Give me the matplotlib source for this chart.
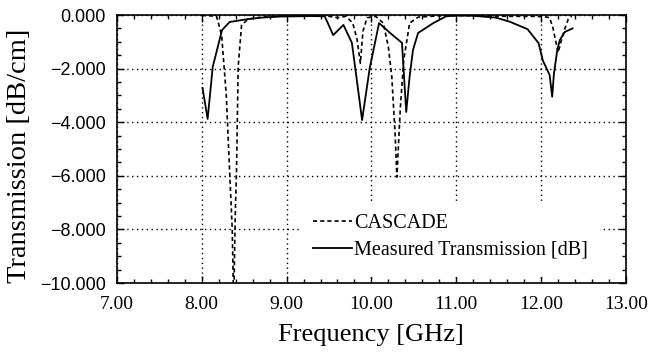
import matplotlib
matplotlib.use("Agg")
import matplotlib.pyplot as plt
from matplotlib.patches import Rectangle
from matplotlib.ticker import MultipleLocator, FixedLocator

# ---- data ----
meas_f = [8.01, 8.07, 8.13, 8.24, 8.33, 8.41, 8.55, 8.70, 8.90, 9.10, 9.30, 9.45,
          9.55, 9.67, 9.77, 9.89, 9.98, 10.09, 10.22, 10.36, 10.41, 10.45, 10.49,
          10.55, 10.73, 10.88, 11.00, 11.20, 11.47, 11.63, 11.84, 11.97, 12.02,
          12.10, 12.13, 12.15, 12.19, 12.22, 12.28, 12.37]
meas_t = [-2.72, -3.88, -1.94, -0.56, -0.26, -0.22, -0.15, -0.10, -0.06, -0.05, -0.04, -0.05,
          -0.75, -0.37, -1.04, -3.92, -1.98, -0.30, -0.67, -1.04, -3.62, -2.30, -1.30,
          -0.67, -0.30, -0.05, -0.02, -0.03, -0.10, -0.25, -0.53, -1.05, -1.70,
          -2.24, -3.05, -2.20, -1.30, -0.93, -0.63, -0.50]

casc_f = [8.00, 8.10, 8.175, 8.235, 8.29, 8.33, 8.36, 8.372, 8.382, 8.395, 8.41, 8.43,
          8.47, 8.55, 8.70, 9.00, 9.30, 9.50, 9.60, 9.70, 9.78, 9.83, 9.87, 9.90,
          9.95, 10.05, 10.14, 10.20, 10.24, 10.28, 10.30, 10.34, 10.38, 10.45, 10.55,
          10.80, 11.20, 11.60, 11.90, 12.05, 12.10, 12.14, 12.20, 12.24, 12.28,
          12.32, 12.36]
casc_t = [-0.02, -0.03, -0.05, -0.75, -3.0, -5.9, -8.0, -10.0, -10.0, -7.5, -5.9, -1.93,
          -0.37, -0.15, -0.08, -0.03, -0.02, -0.05, -0.10, -0.05, -0.30, -0.90, -1.80, -0.60,
          -0.10, -0.05, -0.30, -1.20, -2.30, -4.50, -6.05, -3.50, -1.70, -0.30, -0.08,
          -0.03, -0.02, -0.05, -0.05, -0.07, -0.10, -0.50, -1.40, -0.93, -0.50,
          -0.15, -0.05]

xticks = [7, 8, 9, 10, 11, 12, 13]
xtick_labels = ["7.00", "8.00", "9.00", "10.00", "11.00", "12.00", "13.00"]
yticks = [0, -2, -4, -6, -8, -10]
ytick_labels = ["0.000", "\u22122.000", "\u22124.000", "\u22126.000", "\u22128.000", "\u221210.000"]

serif = ["Liberation Serif", "DejaVu Serif"]

fig = plt.figure(figsize=(6.49, 3.53), dpi=100)
ax = fig.add_axes([0.180, 0.1983, 0.7846, 0.7592])

ax.plot(casc_f, casc_t, color="black", lw=1.2, ls=(0, (2.5, 1.8)), label="CASCADE", zorder=3)
ax.plot(meas_f, meas_t, color="black", lw=1.3, ls="-", label="Measured Transmission [dB]", zorder=3)

ax.set_xlim(7, 13)
ax.set_ylim(-10, 0)
ax.xaxis.set_major_locator(FixedLocator(xticks))
ax.yaxis.set_major_locator(FixedLocator(yticks))
ax.set_xticklabels(xtick_labels)
ax.set_yticklabels(ytick_labels)
ax.xaxis.set_minor_locator(MultipleLocator(0.2))
ax.yaxis.set_minor_locator(MultipleLocator(0.5))
ax.tick_params(which="both", direction="in", top=True, right=True, color="black", width=1.0)
ax.tick_params(which="major", length=5)
ax.tick_params(which="minor", length=3)
ax.tick_params(axis="x", which="major", pad=9, labelsize=14, labelfontfamily="Liberation Serif")
ax.tick_params(axis="y", which="major", pad=8, labelsize=13, labelfontfamily="Liberation Sans")

ax.set_axisbelow(True)
ax.grid(True, which="major", color="black", ls=(0, (1, 2.5)), lw=1.0)
for s in ax.spines.values():
    s.set_linewidth(1.2)

# white box behind the legend hides the grid there
ax.add_patch(Rectangle((0.36, 0.022), 0.589, 0.28, transform=ax.transAxes,
                       facecolor="white", edgecolor="none", zorder=1))

leg = ax.legend(loc="upper left", bbox_to_anchor=(0.385, 0.258), frameon=False,
                prop={"family": serif, "size": 14.5}, handlelength=1.95, handletextpad=0.1,
                labelspacing=0.38, borderaxespad=0, borderpad=0)

ax.set_xlabel("Frequency [GHz]", family=serif, fontsize=19, labelpad=8)
ax.set_ylabel("Transmission [dB/cm]", family=serif, fontsize=20.5)
ax.yaxis.set_label_coords(-0.167, 0.474)

fig.savefig("out.png", dpi=100)
